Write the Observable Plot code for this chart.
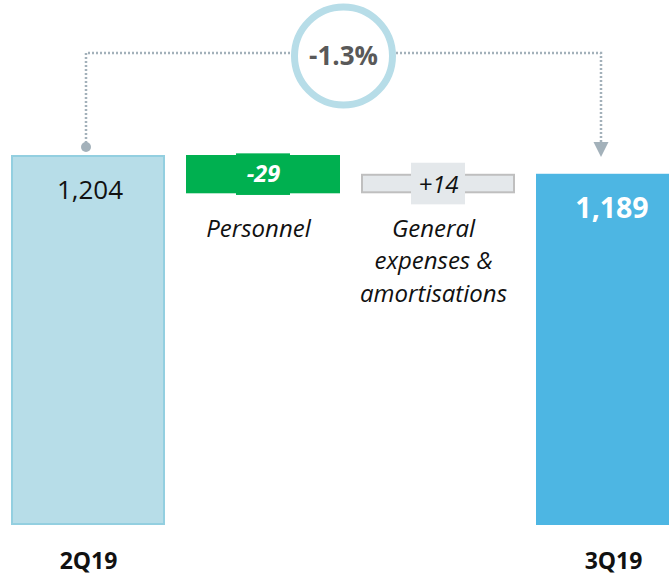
<!DOCTYPE html>
<html><head><meta charset="utf-8">
<script src="https://cdn.jsdelivr.net/npm/d3@7"></script>
<script src="https://cdn.jsdelivr.net/npm/@observablehq/plot@0.6"></script>
<style>html,body{margin:0;padding:0;overflow:hidden;background:#fff;}</style>
</head><body><div id="chart"></div>
<script>
const categories = ["2Q19", "Personnel", "General expenses & amortisations", "3Q19"];
const categoryLabels = ["2Q19", "Personnel", "General\nexpenses &\namortisations", "3Q19"];
const values = [1204, -29, 14, 1189];
const valueLabels = ["1,204", "-29", "+14", "1,189"];
const kinds = ["total", "delta", "delta", "total"];
const changeLabel = "-1.3%";
const yBase = 910; // truncated axis start
const fills = ["#b7dde8", "#00b050", "#e4e8eb", "#4db6e3"];
const strokes = ["#93cfe0", "#00b050", "#bfbfbf", "#4db6e3"];

let running = 0;
const rows = categories.map((c, i) => {
  let y1, y2;
  if (kinds[i] === "total") { y1 = yBase; y2 = values[i]; running = values[i]; }
  else { y1 = running; y2 = running + values[i]; running = y2; }
  return {c, label: categoryLabels[i], valueLabel: valueLabels[i], y1, y2, mid: (y1 + y2) / 2, low: Math.min(y1, y2), fill: fills[i], stroke: strokes[i]};
});
const deltas = rows.filter((d, i) => kinds[i] === "delta");
const totals = rows.filter((d, i) => kinds[i] === "total");

const chart = Plot.plot({
  width: 669, height: 574, margin: 0,
  x: {type: "band", domain: categories, range: [-0.76, 701.24], paddingInner: 0.134, paddingOuter: 0.067, axis: null},
  y: {domain: [yBase, d3.max(values)], range: [524, 156], axis: null},
  color: {type: "identity"},
  style: {fontFamily: "'Open Sans', sans-serif", background: "white", overflow: "hidden"},
  marks: [
    Plot.barY(rows, {x: "c", y1: "y1", y2: "y2", fill: "fill", stroke: "stroke", strokeWidth: 2}),
    Plot.barY(deltas, {x: "c", y1: "mid", y2: "mid", fill: "fill", insetLeft: 49, insetRight: 49, insetTop: -20.8, insetBottom: -20.8}),
    Plot.text([rows[0]], {x: "c", y: "y2", text: "valueLabel", lineAnchor: "bottom", dy: 42.3, dx: 1.5, fontSize: 26, fill: "#111"}),
    Plot.text([rows[3]], {x: "c", y: "y2", text: "valueLabel", lineAnchor: "bottom", dy: 42.5, dx: -1.5, fontSize: 28.5, fontWeight: "bold", fill: "white"}),
    Plot.text([rows[1]], {x: "c", y: "mid", text: "valueLabel", lineAnchor: "bottom", dy: 7.8, fontSize: 23.5, fontWeight: "bold", fontStyle: "italic", fill: "white"}),
    Plot.text([rows[2]], {x: "c", y: "mid", text: "valueLabel", lineAnchor: "bottom", dy: 8.7, fontSize: 24, fontStyle: "italic", fill: "#111"}),
    Plot.text(deltas, {x: "c", y: "low", text: "label", lineAnchor: "top", lineHeight: 1.34, dy: 21.7, dx: -5, fontSize: 24, fontStyle: "italic", fill: "#111"}),
    Plot.text(totals, {x: "c", y: yBase, text: "label", lineAnchor: "bottom", dy: 44, fontSize: 23, fontWeight: "bold", fill: "#111"})
  ]
});
document.getElementById("chart").appendChild(chart);

// bracket annotation positioned with the chart's own scales
const xs = chart.scale("x"), ys = chart.scale("y");
const xStart = xs.apply(categories[0]) + xs.bandwidth / 2 - 2;
const xEnd = xs.apply(categories[3]) + 64;
const yRef = ys.apply(values[0]);
const yLine = yRef - 103;
const yDot = yRef - 9;
const yTip = yRef + 1;
const g = d3.select(chart).append("g");
const dotted = "#a3b1ba";
g.append("path")
  .attr("d", `M${xStart},${yDot}V${yLine}H${xEnd}V${yTip - 15}`)
  .attr("fill", "none").attr("stroke", dotted).attr("stroke-width", 2.5).attr("stroke-dasharray", "2 2");
g.append("circle").attr("cx", xStart).attr("cy", yDot).attr("r", 5).attr("fill", dotted);
g.append("path")
  .attr("d", `M${xEnd - 7.5},${yTip - 15}L${xEnd + 7.5},${yTip - 15}L${xEnd},${yTip}Z`)
  .attr("fill", dotted);
const cxm = (xStart + xEnd) / 2, cym = yLine + 3;
g.append("circle").attr("cx", cxm).attr("cy", cym).attr("r", 49)
  .attr("fill", "white").attr("stroke", "#b7dde8").attr("stroke-width", 7);
g.append("text").attr("x", cxm).attr("y", cym + 8.5).attr("text-anchor", "middle")
  .attr("font-family", "'Open Sans', sans-serif").attr("font-size", 26).attr("font-weight", "bold")
  .attr("fill", "#595959").text(changeLabel);
</script>
</body></html>
